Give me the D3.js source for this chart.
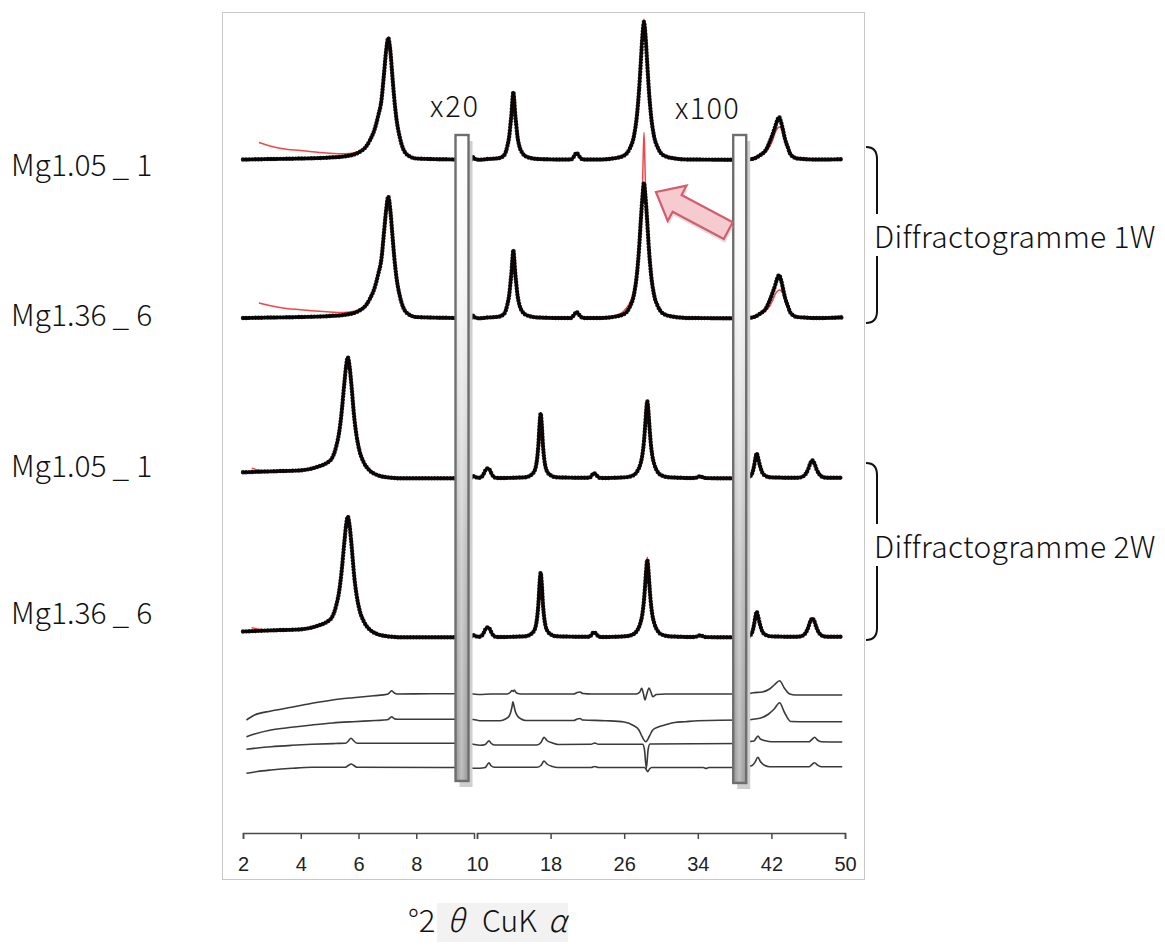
<!DOCTYPE html>
<html>
<head>
<meta charset="utf-8">
<script src="https://cdn.jsdelivr.net/npm/d3@7/dist/d3.min.js"></script>
<style>
  body { margin: 0; background: #fff; }
  svg text { font-family: 'Noto Sans CJK JP', 'Noto Sans', sans-serif; font-weight: 300; }
  .axis text { font-family: 'Liberation Sans', Arial, sans-serif; font-weight: 400; font-size: 20px; fill: #222; }
  .axis path, .axis line { stroke: #4a4a4a; stroke-width: 1.5; }
</style>
</head>
<body>
<svg id="chart" width="1165" height="950"></svg>
<script>
'use strict';

// ---- data (2theta in degrees, intensity in a.u. above each trace's own baseline) ----

var sampleNames = ['Mg1.05_1', 'Mg1.36_6', 'Mg1.05_1', 'Mg1.36_6'];
var groupNames = ['Diffractogramme 1W', 'Diffractogramme 2W'];
var scaleLabels = ['x20', 'x100'];

var lowTicks = [2, 4, 6, 8];
var highTicks = [10, 18, 26, 34, 42, 50];

// stacking offsets of the four patterns and of the four difference curves
var patternOffsets = [720, 561.5, 401.7, 242.7];
var residualOffsets = [186, 160, 136.5, 112.5];

// observed patterns, 2-10 deg part
var obs1Low = [[2.0,0.5],[3.0,1],[4.0,1.5],[5.0,2.5],[5.6,4],[6.0,7.5],[6.25,13],[6.4,20],[6.55,30],[6.68,44],[6.8,61],[6.88,85],[6.96,110],[7.03,122],[7.1,110],[7.17,85],[7.24,61],[7.32,40],[7.42,24],[7.55,11],[7.75,4],[8.0,1.5],[8.5,1],[9.7,0.5]];
var obs2Low = [[2.0,0.5],[3.0,1],[4.0,1.5],[5.0,2.5],[5.6,4],[6.0,7.5],[6.25,13],[6.4,20],[6.55,30],[6.68,44],[6.8,61],[6.88,85],[6.96,109],[7.03,122],[7.1,109],[7.17,85],[7.24,61],[7.32,40],[7.42,24],[7.55,11],[7.75,4],[8.0,1.5],[8.5,1],[9.7,0.5]];
var obs3Low = [[2.0,6],[3.0,7],[4.0,8],[4.63,12],[4.88,15],[5.08,20],[5.23,32],[5.33,46],[5.405,63],[5.51,95],[5.57,112],[5.63,121],[5.69,112],[5.75,95],[5.855,60],[5.93,43],[6.03,28],[6.18,16],[6.38,8],[6.63,3.5],[7.0,1],[7.5,0],[9.7,0]];
var obs4Low = [[2.0,5.8],[3.0,7],[4.0,8],[4.63,12],[4.88,15],[5.08,20],[5.23,32],[5.33,46],[5.405,63],[5.51,95],[5.57,112],[5.63,120.8],[5.69,112],[5.75,95],[5.855,60],[5.93,43],[6.03,28],[6.18,16],[6.38,8],[6.63,3.5],[7.0,1],[7.5,0],[9.7,0]];

// fitted patterns, 2-10 deg part
var fit1Low = [[2.55,17.5],[3.0,13.5],[3.5,10.8],[4.0,9.5],[4.5,8],[5.0,6.8],[5.5,6.2],[5.9,7.5],[6.25,13],[6.4,20],[6.55,30],[6.68,44],[6.8,61],[6.88,85],[6.96,110],[7.03,123],[7.1,110],[7.17,85],[7.24,61],[7.32,40],[7.42,24],[7.55,11],[7.75,4],[8.0,1.5],[8.5,1],[9.7,0.5]];
var fit2Low = [[2.55,15.5],[3.0,12.5],[3.5,10],[4.0,8.8],[4.5,7.5],[5.0,6.5],[5.5,6],[5.9,7.5],[6.25,13],[6.4,20],[6.55,30],[6.68,44],[6.8,61],[6.88,85],[6.96,109],[7.03,122],[7.1,109],[7.17,85],[7.24,61],[7.32,40],[7.42,24],[7.55,11],[7.75,4],[8.0,1.5],[8.5,1],[9.7,0.5]];
var fit3Low = [[2.3,10],[2.6,8],[3.0,7],[4.0,8],[4.63,12],[4.88,15],[5.08,20],[5.23,32],[5.33,46],[5.405,63],[5.51,95],[5.57,112],[5.63,121],[5.69,112],[5.75,95],[5.855,60],[5.93,43],[6.03,28],[6.18,16],[6.38,8],[6.63,3.5],[7.0,1],[7.5,0],[9.7,0]];
var fit4Low = [[2.3,9.5],[2.6,7.8],[3.0,7],[4.0,8],[4.63,12],[4.88,15],[5.08,20],[5.23,32],[5.33,46],[5.405,63],[5.51,95],[5.57,112],[5.63,120.8],[5.69,112],[5.75,95],[5.855,60],[5.93,43],[6.03,28],[6.18,16],[6.38,8],[6.63,3.5],[7.0,1],[7.5,0],[9.7,0]];

// observed patterns, 10-50 deg part (x20 up to the second break, x100 after it)
var obs1High = [[9.0,0],[9.4,0.5],[9.6,3],[9.8,1],[10.2,0.3],[11.2,1],[12.43,2],[12.97,5],[13.3,14],[13.52,25],[13.62,34],[13.73,44],[13.84,58],[13.95,68],[14.06,58],[14.17,44],[14.28,34],[14.38,25],[14.6,14],[14.93,7],[15.47,3],[16.67,1],[19.5,0.5],[20.2,0.5],[20.5,3],[20.7,6],[20.84,7],[21.0,5.5],[21.25,2],[21.6,0.5],[23.26,0.5],[25.11,2],[26.08,5],[26.63,12],[27.06,24],[27.39,45],[27.61,69],[27.82,100],[27.99,125],[28.15,138],[28.31,125],[28.48,100],[28.69,69],[28.91,45],[29.24,24],[29.67,12],[30.22,5],[31.19,2],[33.04,0.5],[38.8,0.3],[39.4,0.5],[40.1,1.5],[40.8,5],[41.4,10],[41.85,19],[42.18,27],[42.4,33],[42.61,39],[42.83,43],[43.05,38],[43.26,30],[43.48,21],[43.81,12],[44.0,7],[44.4,3],[44.8,1.5],[47,0.5],[49.7,0.8]];
var obs2High = [[9.0,0],[9.4,0.5],[9.6,3],[9.8,1],[10.2,0.3],[11.2,1],[12.43,2],[12.97,5],[13.3,14],[13.52,25],[13.62,34],[13.73,44],[13.84,58],[13.95,68.5],[14.06,58],[14.17,44],[14.28,34],[14.38,25],[14.6,14],[14.93,7],[15.47,3],[16.67,1],[19.5,0.5],[20.2,0.5],[20.5,3],[20.7,5.5],[20.84,6.5],[21.0,5],[21.25,2],[21.6,0.5],[23.26,0.5],[25.11,2],[26.08,5],[26.63,12],[27.06,24],[27.39,45],[27.61,69],[27.82,100],[27.99,122],[28.15,135.5],[28.31,122],[28.48,100],[28.69,69],[28.91,45],[29.24,24],[29.67,12],[30.22,5],[31.19,2],[33.04,0.5],[38.8,0.3],[39.4,0.5],[40.1,1.5],[40.8,5],[41.4,10],[41.85,19],[42.18,27],[42.4,33],[42.61,39.5],[42.83,43.5],[43.05,38.5],[43.26,30],[43.48,21],[43.81,12],[44.0,7],[44.4,3],[44.8,1.5],[47,0.5],[49.7,1]];
var obs3High = [[9.0,0],[9.3,0.5],[9.6,2],[9.9,1],[10.18,0.5],[10.51,1.5],[10.73,4.5],[10.94,8.5],[11.16,10],[11.38,8.5],[11.59,4.5],[11.81,1.5],[12.14,0.3],[15.18,1],[15.83,3],[16.16,6],[16.38,11],[16.54,20],[16.67,33],[16.81,55],[16.92,65],[17.03,55],[17.17,33],[17.3,20],[17.46,11],[17.68,6],[18.01,3],[18.66,1],[22.2,0.5],[22.45,2.5],[22.6,4.5],[22.75,5],[22.95,3.5],[23.2,1],[23.5,0.3],[26.12,1],[26.99,3],[27.42,7],[27.75,14],[27.97,23],[28.16,38],[28.29,54],[28.38,66],[28.51,77],[28.64,66],[28.73,54],[28.86,38],[29.05,23],[29.27,14],[29.6,7],[30.03,3],[30.9,1],[33.6,0.3],[34.0,1.2],[34.24,2],[34.6,0.8],[35.0,0.2],[39.2,0],[39.5,0.5],[39.75,2.5],[39.95,6],[40.12,12.5],[40.26,20],[40.4,25],[40.56,20],[40.76,12.5],[41.0,6],[41.35,2.5],[41.9,1],[44.82,0.5],[45.36,1.5],[45.69,4],[45.99,9],[46.23,15],[46.45,18],[46.67,15],[46.91,9],[47.21,4],[47.54,1.5],[48.08,0.5],[49.7,0.5]];
var obs4High = [[9.0,0],[9.3,0.5],[9.6,2],[9.9,1],[10.18,0.5],[10.51,1.5],[10.73,4.5],[10.94,8.5],[11.16,10],[11.38,8.5],[11.59,4.5],[11.81,1.5],[12.14,0.3],[15.18,1],[15.83,3],[16.16,6],[16.38,11],[16.54,20],[16.67,33],[16.81,55],[16.92,64.6],[17.03,55],[17.17,33],[17.3,20],[17.46,11],[17.68,6],[18.01,3],[18.66,1],[22.2,0.5],[22.45,2.5],[22.6,4.5],[22.75,5],[22.95,3.5],[23.2,1],[23.5,0.3],[26.12,1],[26.99,3],[27.42,7],[27.75,14],[27.97,23],[28.16,38],[28.29,54],[28.38,66],[28.51,77.3],[28.64,66],[28.73,54],[28.86,38],[29.05,23],[29.27,14],[29.6,7],[30.03,3],[30.9,1],[33.6,0.3],[34.0,1.2],[34.24,2],[34.6,0.8],[35.0,0.2],[39.2,0],[39.5,0.5],[39.75,2.5],[39.95,6],[40.12,13],[40.26,20.5],[40.4,25.6],[40.56,20.5],[40.76,13],[41.0,6],[41.35,2.5],[41.9,1],[44.82,0.5],[45.36,1.5],[45.69,4],[45.99,9.5],[46.23,16],[46.45,19],[46.67,16],[46.91,9.5],[47.21,4],[47.54,1.5],[48.08,0.5],[49.7,0.5]];

// fitted patterns, 10-50 deg part
var fit1High = [[9.0,0],[9.4,0.5],[9.6,3],[9.8,1],[10.2,0.3],[11.2,1],[12.43,2],[12.97,5],[13.3,14],[13.52,25],[13.62,34],[13.73,44],[13.84,58],[13.95,68],[14.06,58],[14.17,44],[14.28,34],[14.38,25],[14.6,14],[14.93,7],[15.47,3],[16.67,1],[19.5,0.5],[20.2,0.5],[20.5,3],[20.7,6],[20.84,7],[21.0,5.5],[21.25,2],[21.6,0.5],[23.26,0.5],[25.11,2],[26.08,5],[26.63,12],[27.06,24],[27.39,45],[27.61,69],[27.82,100],[27.99,126],[28.15,141],[28.31,126],[28.48,100],[28.69,69],[28.91,45],[29.24,24],[29.67,12],[30.22,5],[31.19,2],[33.04,0.5],[38.8,0.3],[39.4,0.5],[40.1,1.5],[40.8,4.5],[41.4,8],[41.85,14],[42.18,21],[42.4,27],[42.61,31],[42.83,33],[43.05,32],[43.26,27],[43.48,20],[43.81,12],[44.0,7],[44.4,3],[44.8,1.5],[47,0.5],[49.7,1.5]];
var fit2High = [[9.0,0],[9.4,0.5],[9.6,3],[9.8,1],[10.2,0.3],[11.2,1],[12.43,2],[12.97,5],[13.3,14],[13.52,25],[13.62,34],[13.73,44],[13.84,58],[13.95,68.5],[14.06,58],[14.17,44],[14.28,34],[14.38,25],[14.6,14],[14.93,7],[15.47,3],[16.67,1],[19.5,0.5],[20.2,0.5],[20.5,3],[20.7,5.5],[20.84,6.5],[21.0,5],[21.25,2],[21.6,0.5],[23.26,0.5],[25.0,3],[25.9,7],[26.5,14],[27.0,26],[27.35,46],[27.61,69],[27.85,105],[27.98,130],[28.06,160],[28.15,186],[28.24,160],[28.32,130],[28.45,105],[28.69,69],[28.91,45],[29.24,24],[29.67,12],[30.22,5],[31.19,2],[33.04,0.5],[38.8,0.3],[39.4,0.5],[40.1,1.5],[40.8,4.5],[41.4,8],[41.85,13],[42.18,19],[42.4,24],[42.61,27],[42.83,28.5],[43.05,28],[43.26,25],[43.48,19],[43.81,12],[44.0,7],[44.4,3],[44.8,1.5],[47,0.8],[49.7,3]];
var fit3High = obs3High;
var fit4High = [[9.0,0],[9.3,0.5],[9.6,2],[9.9,1],[10.18,0.5],[10.51,1.5],[10.73,4.5],[10.94,8.5],[11.16,10],[11.38,8.5],[11.59,4.5],[11.81,1.5],[12.14,0.3],[15.18,1],[15.83,3],[16.16,6],[16.38,11],[16.54,20],[16.67,33],[16.81,55],[16.92,65],[17.03,55],[17.17,33],[17.3,20],[17.46,11],[17.68,6],[18.01,3],[18.66,1],[22.2,0.5],[22.45,2.5],[22.6,4.5],[22.75,5],[22.95,3.5],[23.2,1],[23.5,0.3],[26.12,1],[26.99,3],[27.42,7],[27.75,14],[27.97,23],[28.16,38],[28.29,55],[28.38,68],[28.51,80],[28.64,68],[28.73,55],[28.86,38],[29.05,23],[29.27,14],[29.6,7],[30.03,3],[30.9,1],[33.6,0.3],[34.0,1.2],[34.24,2],[34.6,0.8],[35.0,0.2],[39.2,0],[39.5,0.5],[39.75,2.5],[39.95,6],[40.12,13],[40.26,20.5],[40.4,25.6],[40.56,20.5],[40.76,13],[41.0,6],[41.35,2.5],[41.9,1],[44.82,0.5],[45.36,1.5],[45.69,4],[45.99,9.5],[46.23,16],[46.45,19],[46.67,16],[46.91,9.5],[47.21,4],[47.54,1.5],[48.08,0.5],[49.7,0.5]];

// difference curves (observed - fitted)
var res1Low = [[2.12,-26],[2.4,-21],[2.97,-17],[3.68,-13.3],[4.39,-9.3],[5.1,-6],[5.81,-3.7],[6.53,-1.7],[7.0,-0.2],[7.08,1.5],[7.15,3.3],[7.24,1],[7.35,0],[8.5,0.3],[9.7,0.3]];
var res2Low = [[2.12,-16.7],[2.4,-14],[2.97,-10],[3.68,-7.3],[4.39,-5],[5.1,-3],[5.81,-1.7],[6.6,-0.5],[7.0,0.2],[7.08,1.8],[7.15,3.3],[7.24,1.2],[7.35,0.7],[9.7,0.7]];
var res3Low = [[2.12,-5.8],[2.5,-4.5],[2.97,-3.2],[3.7,-1.8],[4.39,-0.8],[5.2,0],[5.55,0.3],[5.65,2.5],[5.74,5.2],[5.84,2.5],[5.95,0.3],[6.5,0.2],[9.7,0.2]];
var res4Low = [[2.12,-5.8],[2.5,-4],[2.97,-2.5],[3.7,-0.8],[4.39,0.2],[5.55,0.3],[5.65,2],[5.74,3.5],[5.84,2],[5.95,0.2],[9.7,0]];
var res1High = [[9.0,0.3],[9.6,0],[10.3,-0.5],[11.5,0],[13.2,0],[13.6,1.5],[13.8,3.5],[13.95,2.5],[14.05,4],[14.3,1],[14.8,0],[20.5,0],[20.9,1.5],[21.2,2],[21.5,0.5],[22.5,0],[27.3,0],[27.7,2],[27.9,5.7],[28.1,0],[28.26,-6],[28.45,0],[28.7,6],[28.9,2],[29.1,-2.7],[29.5,-0.5],[30.5,0],[38.8,0],[39.4,0],[40.0,1.3],[41.0,2],[41.8,5],[42.3,9],[42.9,13.3],[43.4,6],[44.0,0],[44.6,-1],[49.7,-1]];
var res2High = [[9.0,0.7],[9.6,0.5],[10.3,-0.7],[12.5,-0.7],[13.1,1],[13.5,4],[13.7,9],[13.82,14],[13.9,18.3],[14.0,15],[14.15,9],[14.4,4],[14.8,1],[15.3,-0.5],[20.5,-0.5],[20.9,1],[21.2,1.5],[21.5,0],[24,-0.7],[26.0,-2],[27.0,-5.5],[27.6,-10],[27.95,-16.7],[28.35,-21.7],[28.75,-16],[29.1,-10],[29.7,-7],[30.4,-5],[31.5,-2.5],[32.6,-1.7],[34,-0.7],[38.8,0],[39.4,0],[40.2,1],[41.0,2.5],[41.7,6],[42.3,11],[42.9,17.3],[43.4,8],[44.1,-1.5],[46,-1.7],[49.7,-1.7]];
var res3High = [[9.0,0.2],[9.45,-0.5],[10.33,-1.8],[10.9,-1],[11.15,1.5],[11.3,2.8],[11.5,0.5],[11.9,-1.5],[16.5,-1.5],[16.95,1],[17.15,4.5],[17.28,6.2],[17.6,3],[18.2,0.5],[18.8,-1],[22.4,-0.8],[22.8,0.5],[23.2,-0.8],[28.0,-0.8],[28.2,-6],[28.41,-24.8],[28.6,-6],[28.8,-0.5],[38.8,0],[39.4,1.8],[40.1,2.5],[40.35,5.5],[40.54,7.5],[40.8,4.5],[41.35,2.8],[42,1.8],[46.1,1.8],[46.4,4],[46.7,6.2],[47.0,3.5],[47.4,1.8],[49.7,1.5]];
var res4High = [[9.0,0],[9.45,-0.8],[10.3,-0.8],[10.9,0],[11.1,2.5],[11.3,4.8],[11.5,2],[11.9,0.2],[16.5,0.2],[16.95,2],[17.15,5],[17.28,6.5],[17.6,3.5],[18.2,1],[18.8,0],[22.4,0],[22.8,1],[23.2,0],[28.2,0],[28.4,-2],[28.55,-4.2],[28.75,-1.5],[29.0,0],[34.6,0],[34.9,-1],[35.2,0],[38.8,0],[39.4,0.8],[39.9,2],[40.2,5],[40.54,10.2],[40.8,6],[41.3,2],[41.8,0.8],[46.1,0.8],[46.4,3],[46.7,4.8],[47.0,2.5],[47.4,0.8],[49.7,0.8]];

var observed = [[obs1Low, obs1High], [obs2Low, obs2High], [obs3Low, obs3High], [obs4Low, obs4High]];
var fitted = [[fit1Low, fit1High], [fit2Low, fit2High], [fit3Low, fit3High], [fit4Low, fit4High]];
var residuals = [[res1Low, res1High], [res2Low, res2High], [res3Low, res3High], [res4Low, res4High]];

// ---- layout ----
var svg = d3.select('#chart');
var defs = svg.append('defs');

// broken x axis: 2-10 deg stretched, 10-50 deg compressed
var xLow = d3.scaleLinear().domain([2, 10]).range([243, 474]);
var xHigh = d3.scaleLinear().domain([10, 50]).range([477, 845]);
var y = d3.scaleLinear().domain([0, 870]).range([880, 10]);
var axisY = 833;

var redColor = '#f04848';

// frame
svg.append('rect')
  .attr('x', 222.5).attr('y', 12.5)
  .attr('width', 642).attr('height', 867)
  .attr('fill', '#fff')
  .attr('stroke', '#c8c8c8')
  .attr('stroke-width', 1);

function lineFor( xs, offset ) {
  return d3.line()
    .x(function(d) { return xs( d[0] ); })
    .y(function(d) { return y( offset + d[1] ); })
    .curve( d3.curveMonotoneX );
}

var traces = svg.append('g');

// difference curves
residuals.forEach(function( parts, i ) {
  [xLow, xHigh].forEach(function( xs, k ) {
    traces.append('path')
      .attr('d', lineFor( xs, residualOffsets[i] )( parts[k] ))
      .attr('fill', 'none')
      .attr('stroke', '#3a3a3a')
      .attr('stroke-width', 1.6);
  });
});

// observed (black beaded) and fitted (red) curves
observed.forEach(function( parts, i ) {
  [xLow, xHigh].forEach(function( xs, k ) {
    var line = lineFor( xs, patternOffsets[i] );
    traces.append('path')
      .attr('d', line( parts[k] ))
      .attr('fill', 'none')
      .attr('stroke', '#111')
      .attr('stroke-width', 2.4);
    traces.append('path')
      .attr('d', line( fitted[i][k] ))
      .attr('fill', 'none')
      .attr('stroke', redColor)
      .attr('stroke-width', 1.5);
    traces.append('path')
      .attr('d', line( parts[k] ))
      .attr('fill', 'none')
      .attr('stroke', '#000')
      .attr('stroke-width', 4.4)
      .attr('stroke-linecap', 'round')
      .attr('stroke-dasharray', '0 3.1')
      .attr('opacity', 0.92);
  });
});

// break bars
var grad = defs.append('linearGradient')
  .attr('id', 'barFill')
  .attr('x1', 0).attr('y1', 0).attr('x2', 0).attr('y2', 1);
[['0%', '#ffffff'], ['22%', '#f6f6f6'], ['42%', '#dedede'], ['65%', '#bdbdbd'], ['100%', '#9c9c9c']]
  .forEach(function(s) { grad.append('stop').attr('offset', s[0]).attr('stop-color', s[1]); });

var shine = defs.append('linearGradient')
  .attr('id', 'barShine')
  .attr('x1', 0).attr('y1', 0).attr('x2', 1).attr('y2', 0);
[['0%', 0], ['45%', 0.35], ['100%', 0]]
  .forEach(function(s) { shine.append('stop').attr('offset', s[0]).attr('stop-color', '#fff').attr('stop-opacity', s[1]); });

var bars = [
  { x: xLow( 9.36 ), top: 135, bottom: 781 },
  { x: xHigh( 37.85 ), top: 135, bottom: 783 }
];
var barWidth = 13;

bars.forEach(function( b ) {
  svg.append('rect')
    .attr('x', b.x + 4).attr('y', b.top + 6)
    .attr('width', barWidth).attr('height', b.bottom - b.top)
    .attr('fill', '#cfcfcf');
  svg.append('rect')
    .attr('x', b.x).attr('y', b.top)
    .attr('width', barWidth).attr('height', b.bottom - b.top)
    .attr('fill', 'url(#barFill)')
    .attr('stroke', '#6e6e6e')
    .attr('stroke-width', 2.4);
  svg.append('rect')
    .attr('x', b.x + 1.5).attr('y', b.top + 1.5)
    .attr('width', barWidth - 3).attr('height', b.bottom - b.top - 3)
    .attr('fill', 'url(#barShine)');
});

// scale factor labels above the bars
svg.append('text').attr('x', 430).attr('y', 117)
  .attr('font-size', 29).attr('letter-spacing', 1.8).attr('fill', '#111').text( scaleLabels[0] );
svg.append('text').attr('x', 675).attr('y', 119)
  .attr('font-size', 29).attr('letter-spacing', 1.3).attr('fill', '#111').text( scaleLabels[1] );

// arrow pointing at the misfit peak
var arrowPts = [[0,0],[24,-20],[24,-9.5],[82,-9.5],[82,9.5],[24,9.5],[24,20]];
var arrow = svg.append('g')
  .attr('transform', 'translate(' + xHigh( 29.45 ) + ',' + y( 688 ) + ') rotate(28.1)');
arrow.append('polygon')
  .attr('points', arrowPts.map(function(p) { return [p[0] + 3, p[1] + 3].join(','); }).join(' '))
  .attr('fill', '#b9b9b9')
  .attr('opacity', 0.45);
arrow.append('polygon')
  .attr('points', arrowPts.map(function(p) { return p.join(','); }).join(' '))
  .attr('fill', '#f5cbd0')
  .attr('stroke', '#d45d6c')
  .attr('stroke-width', 2.2)
  .attr('stroke-linejoin', 'miter');

// sample names (underscore spaced out as in the original)
var nameBaselines = [176, 326, 477, 624];
sampleNames.forEach(function( name, i ) {
  var parts = name.split('_');
  var t = svg.append('text')
    .attr('x', 11).attr('y', nameBaselines[i])
    .attr('font-size', 30).attr('fill', '#111');
  t.append('tspan').text( parts[0] );
  t.append('tspan').attr('dx', 6).text('_');
  t.append('tspan').attr('dx', 7).text( parts[1] );
});

// group brackets with their labels
var brackets = [
  { top: 147, bottom: 323, baseline: 248 },
  { top: 463, bottom: 640, baseline: 558 }
];
brackets.forEach(function( b, i ) {
  var t = b.top, e = b.bottom;
  svg.append('path')
    .attr('d', 'M866,' + t + ' C873,' + t + ' 877,' + (t + 3) + ' 877,' + (t + 12) +
      ' V' + (e - 12) + ' C877,' + (e - 3) + ' 873,' + e + ' 866,' + e)
    .attr('fill', 'none')
    .attr('stroke', '#111')
    .attr('stroke-width', 2);
  var bg = svg.append('rect').attr('fill', '#fff');
  var label = svg.append('text')
    .attr('x', 874).attr('y', b.baseline)
    .attr('font-size', 30).attr('letter-spacing', 0.3).attr('fill', '#111')
    .text( groupNames[i] );
  var box = label.node().getBBox();
  bg.attr('x', box.x - 2).attr('y', box.y + 1)
    .attr('width', box.width + 4).attr('height', box.height - 2);
});

// axes
var axisLow = d3.axisBottom( xLow ).tickValues( lowTicks ).tickSize(6).tickPadding(18);
var axisHigh = d3.axisBottom( xHigh ).tickValues( highTicks ).tickSize(6).tickPadding(18);
svg.append('g').attr('class', 'axis').attr('transform', 'translate(0,' + axisY + ')').call( axisLow );
svg.append('g').attr('class', 'axis').attr('transform', 'translate(0,' + axisY + ')').call( axisHigh );

// x axis title
var title = svg.append('g');
title.append('rect')
  .attr('x', 437).attr('y', 903)
  .attr('width', 131).attr('height', 39)
  .attr('fill', '#f2f2f2');
title.append('text')
  .attr('x', 408).attr('y', 932)
  .attr('font-size', 31).attr('fill', '#111')
  .text('°2');
title.append('text')
  .attr('x', 447).attr('y', 932)
  .attr('font-family', "'Liberation Serif', serif").attr('font-style', 'italic')
  .attr('font-weight', 400).attr('font-size', 31).attr('fill', '#111')
  .text('θ');
title.append('text')
  .attr('x', 482).attr('y', 932)
  .attr('font-size', 30).attr('fill', '#111')
  .text('CuK');
title.append('text')
  .attr('x', 548).attr('y', 932)
  .attr('font-family', "'Liberation Serif', serif").attr('font-style', 'italic')
  .attr('font-weight', 400).attr('font-size', 31).attr('fill', '#111')
  .text('α');
</script>
</body>
</html>
